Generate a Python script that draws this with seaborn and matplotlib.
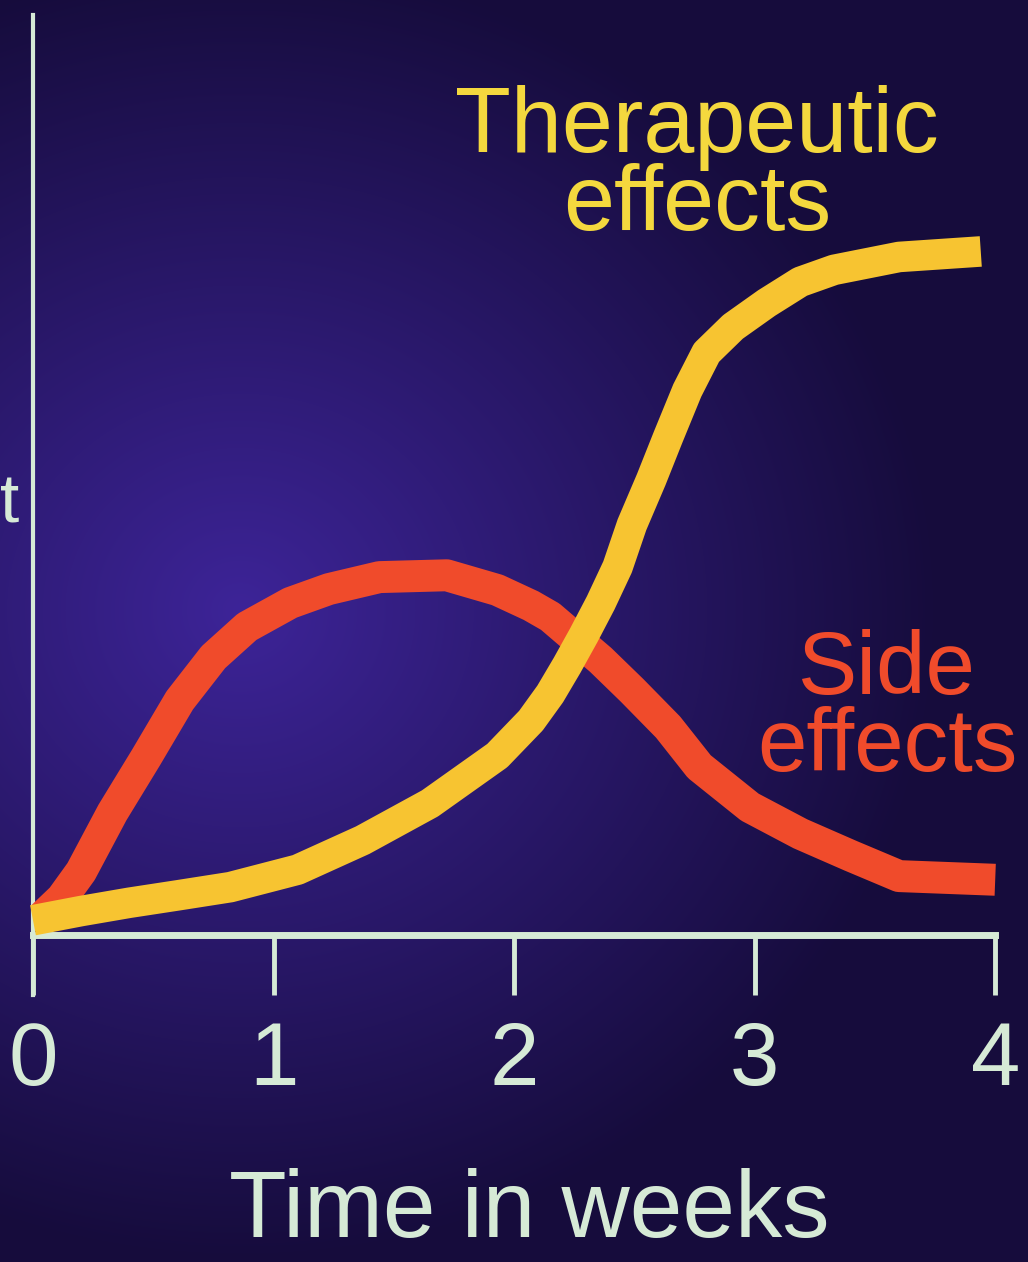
import numpy as np
import pandas as pd
import matplotlib.pyplot as plt
import seaborn as sns

# Du lieu doc tu hinh (truc y: 0-100, don vi tuy y)
weeks_therapeutic = [0, 0.2, 0.4, 0.6, 0.82, 1.1, 1.37, 1.65, 1.93, 2.07, 2.15, 2.22, 2.29, 2.36,
                     2.43, 2.49, 2.57, 2.64, 2.72, 2.8, 2.91, 3.05, 3.19, 3.33, 3.6, 3.94]
therapeutic = [1.6, 2.6, 3.5, 4.3, 5.2, 7.1, 10.3, 14.3, 19.5, 23.3, 26.2, 29.3, 32.6, 36.1,
               40.0, 44.6, 49.5, 54.1, 59.2, 63.3, 66.1, 68.7, 71.0, 72.3, 73.7, 74.3]

weeks_side = [0.04, 0.12, 0.2, 0.33, 0.47, 0.61, 0.75, 0.89, 1.07, 1.23, 1.44, 1.72, 1.93, 2.07,
              2.15, 2.36, 2.49, 2.64, 2.77, 2.98, 3.19, 3.4, 3.6, 4.0]
side = [2.0, 4.0, 6.9, 13.3, 19.3, 25.5, 30.2, 33.5, 36.1, 37.6, 38.9, 39.1, 37.5, 35.8,
        34.6, 29.9, 26.6, 22.6, 18.3, 13.9, 11.0, 8.6, 6.4, 6.0]

tick_labels = ['0', '1', '2', '3', '4']

df_ther = pd.DataFrame({'week': weeks_therapeutic, 'value': therapeutic})
df_side = pd.DataFrame({'week': weeks_side, 'value': side})

sns.set_style('dark')
plt.rcParams['font.family'] = ['Liberation Sans', 'DejaVu Sans']

axis_color = '#d6ead6'
yellow = '#f7c431'
red = '#f04b2b'

fig = plt.figure(figsize=(10.28, 12.62), dpi=100)

# Nen gradient tim (hieu ung anh chieu)
bg = fig.add_axes([0, 0, 1, 1])
h, w = 1262, 1028
yy, xx = np.mgrid[0:h, 0:w]
r = np.sqrt(((xx - 240) / 700.0) ** 2 + ((yy - 610) / 650.0) ** 2)
t = np.clip(r, 0, 1)[..., None]
inner = np.array([0x3d, 0x24, 0x98]) / 255.0
outer = np.array([0x16, 0x0c, 0x3c]) / 255.0
img = inner * (1 - t) + outer * t
bg.imshow(img, aspect='auto', extent=[0, 1, 0, 1], origin='upper')
bg.axis('off')

ax = fig.add_axes([0.0321, 0.2116, 0.936, 0.7765])
ax.set_facecolor('none')

sns.lineplot(data=df_side, x='week', y='value', ax=ax, color=red, linewidth=23,
             solid_capstyle='butt', solid_joinstyle='round', clip_on=False, zorder=3)
sns.lineplot(data=df_ther, x='week', y='value', ax=ax, color=yellow, linewidth=22,
             solid_capstyle='butt', solid_joinstyle='round', clip_on=False, zorder=4)

ax.set_xlim(0, 4)
ax.set_ylim(-6.52, 100)
ax.grid(False)

for s in ['top', 'right']:
    ax.spines[s].set_visible(False)
ax.spines['left'].set_color(axis_color)
ax.spines['left'].set_linewidth(3)
ax.spines['bottom'].set_color(axis_color)
ax.spines['bottom'].set_linewidth(5)
ax.spines['bottom'].set_position(('data', 0))
ax.spines['bottom'].set_zorder(2)

ax.set_xticks(range(5))
ax.set_xticklabels(tick_labels)
ax.set_yticks([])
ax.tick_params(axis='x', direction='out', length=43, width=3.5, color=axis_color,
               labelcolor=axis_color, labelsize=64, pad=18, bottom=True)
ax.set_xlabel('')
ax.set_ylabel('')

fig.text(0.515, 0.02, 'Time in weeks', color=axis_color, fontsize=68,
         ha='center', va='baseline')

ax.text(2.76, 83.5, 'Therapeutic\neffects', color='#f4d83e', fontsize=66,
        ha='center', va='center', linespacing=0.88)
ax.text(3.55, 24.5, 'Side\neffects', color=red, fontsize=64,
        ha='center', va='center', linespacing=0.88)

# chu "t" o mep trai (phan con lai cua nhan truc y)
fig.text(0.0, 0.6, 't', color=axis_color, fontsize=50, ha='left', va='center')

plt.savefig('out.png', dpi=100)
